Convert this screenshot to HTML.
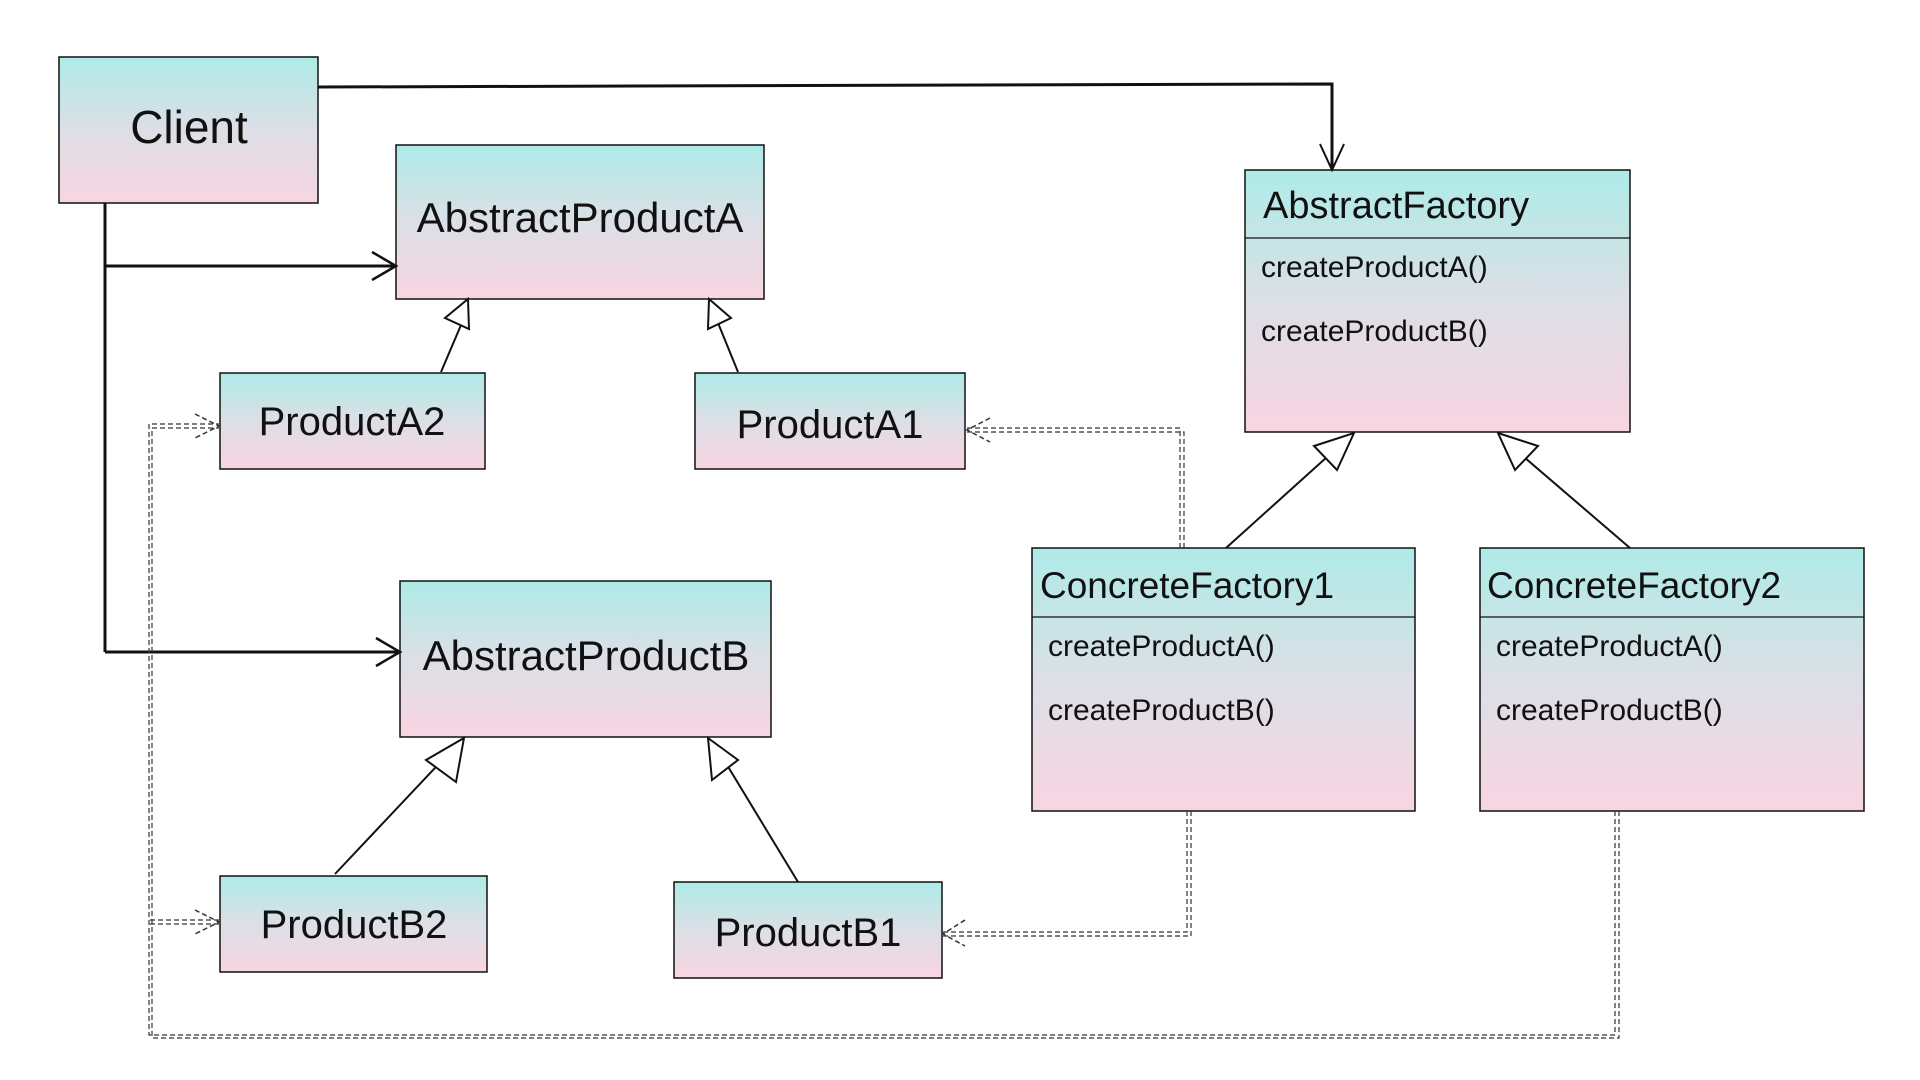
<!DOCTYPE html>
<html><head><meta charset="utf-8"><style>
html,body{margin:0;padding:0;background:#fff;width:1920px;height:1080px;overflow:hidden}
svg{display:block}
text{font-family:"Liberation Sans",sans-serif;fill:#111}
</style></head><body>
<svg width="1920" height="1080" viewBox="0 0 1920 1080" xmlns="http://www.w3.org/2000/svg">
<defs>
<linearGradient id="g" x1="0" y1="0" x2="0" y2="1">
<stop offset="0" stop-color="#aeebe7"/><stop offset="0.5" stop-color="#dcdfe6"/><stop offset="1" stop-color="#f8d5e2"/>
</linearGradient>
</defs>
<g stroke="#111" stroke-width="1.5" fill="url(#g)">
<rect x="59" y="57" width="259" height="146"/>
<rect x="396" y="145" width="368" height="154"/>
<rect x="220" y="373" width="265" height="96"/>
<rect x="695" y="373" width="270" height="96"/>
<rect x="400" y="581" width="371" height="156"/>
<rect x="220" y="876" width="267" height="96"/>
<rect x="674" y="882" width="268" height="96"/>
<rect x="1245" y="170" width="385" height="262"/>
<rect x="1032" y="548" width="383" height="263"/>
<rect x="1480" y="548" width="384" height="263"/>
</g>
<g stroke="#111" stroke-width="1.2">
<line x1="1245" y1="238" x2="1630" y2="238"/>
<line x1="1032" y1="617" x2="1415" y2="617"/>
<line x1="1480" y1="617" x2="1864" y2="617"/>
</g>
<g stroke="#111" stroke-width="3" fill="none">
<polyline points="318,87 1332,84 1332,170"/>
<polyline points="1320,144 1332,170 1344,144" stroke-width="2"/>
<line x1="105" y1="203" x2="105" y2="652"/>
<line x1="105" y1="266" x2="396" y2="266"/>
<line x1="105" y1="652" x2="400" y2="652"/>
<polyline points="372,252 396,266 372,280" stroke-width="2.5"/>
<polyline points="376,638 400,652 376,666" stroke-width="2.5"/>
</g>
<g stroke="#111" stroke-width="2" fill="#fff">
<line x1="441" y1="372" x2="464" y2="318"/>
<line x1="738" y1="372" x2="716" y2="318"/>
<polygon points="468,299 469,329 445,318"/>
<polygon points="709,299 731,318 708,329"/>
<line x1="335" y1="874" x2="450" y2="752"/>
<line x1="798" y1="882" x2="724" y2="760"/>
<polygon points="464,738 456,782 426,760"/>
<polygon points="708,738 738,760 712,780"/>
<line x1="1226" y1="548" x2="1327" y2="457"/>
<line x1="1630" y1="548" x2="1524" y2="457"/>
<polygon points="1354,433 1337,470 1314,446"/>
<polygon points="1498,433 1538,446 1515,470"/>
</g>
<g stroke="#333" stroke-width="1.2" stroke-dasharray="5,3" fill="none">
<polyline points="1180,548 1180,428 967,428"/>
<polyline points="1184,548 1184,432 967,432"/>
<polyline points="1187,811 1187,932 942,932"/>
<polyline points="1191,811 1191,936 942,936"/>
<polyline points="1615,811 1615,1035 149,1035 149,424 219,424"/>
<polyline points="1619,811 1619,1038 152,1038 152,428 219,428"/>
<polyline points="150,920 219,920"/>
<polyline points="150,924 219,924"/>
<polyline points="990,418 967,430 990,442" stroke-width="1.5"/>
<polyline points="965,920 943,934 965,946" stroke-width="1.5"/>
<polyline points="195,414 219,426 195,438" stroke-width="1.5"/>
<polyline points="195,910 219,922 195,934" stroke-width="1.5"/>
</g>
<g text-anchor="middle">
<text x="189" y="143" font-size="46">Client</text>
<text x="580" y="232" font-size="42">AbstractProductA</text>
<text x="352" y="435" font-size="40">ProductA2</text>
<text x="830" y="438" font-size="40">ProductA1</text>
<text x="586" y="670" font-size="42">AbstractProductB</text>
<text x="354" y="938" font-size="40">ProductB2</text>
<text x="808" y="946" font-size="40">ProductB1</text>
</g>
<g>
<text x="1263" y="218" font-size="38">AbstractFactory</text>
<text x="1040" y="598" font-size="37">ConcreteFactory1</text>
<text x="1487" y="598" font-size="37">ConcreteFactory2</text>
</g>
<g font-size="30">
<text x="1261" y="277">createProductA()</text>
<text x="1261" y="341">createProductB()</text>
<text x="1048" y="656">createProductA()</text>
<text x="1048" y="720">createProductB()</text>
<text x="1496" y="656">createProductA()</text>
<text x="1496" y="720">createProductB()</text>
</g>
</svg>
</body></html>
